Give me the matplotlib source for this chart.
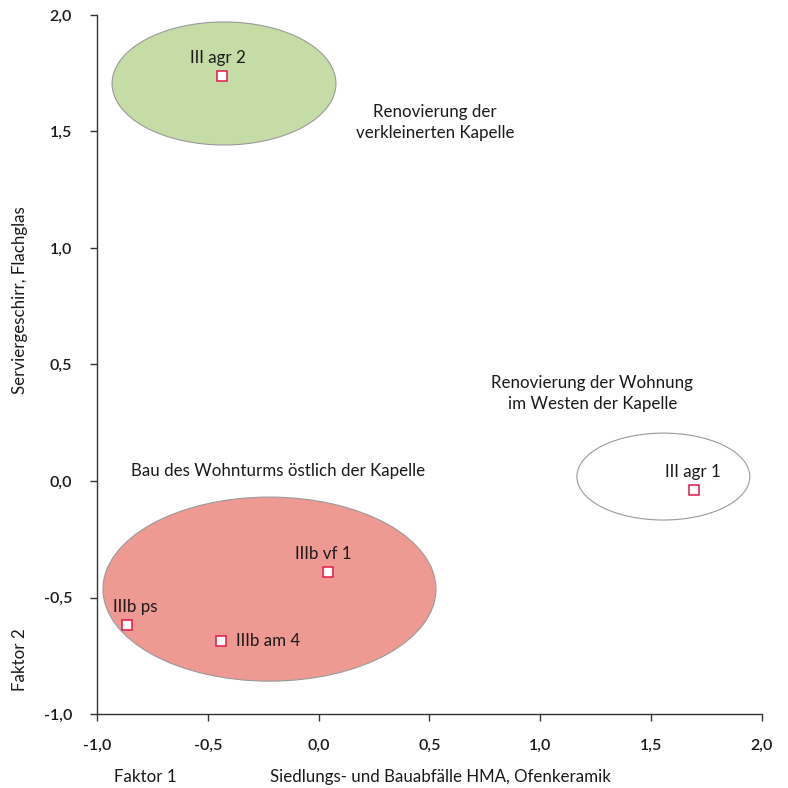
import matplotlib
matplotlib.use("Agg")
import matplotlib.pyplot as plt
from matplotlib.patches import Ellipse

plt.rcParams['font.family'] = ['Lato', 'DejaVu Sans']

# Sample scores on the two factors
labels = ["III agr 2", "III agr 1", "IIIb vf 1", "IIIb ps", "IIIb am 4"]
faktor1 = [-0.436, 1.693, 0.042, -0.865, -0.441]
faktor2 = [1.738, -0.039, -0.391, -0.618, -0.687]

# Group ellipses: centre x, centre y, width, height, fill
group_cx = [-0.427, 1.555, -0.222]
group_cy = [1.706, 0.019, -0.464]
group_w = [1.01, 0.78, 1.502]
group_h = [0.528, 0.373, 0.79]
group_fill = ["#c6dca6", "#ffffff", "#ee9a93"]

group_text = ["Renovierung der\nverkleinerten Kapelle",
              "Renovierung der Wohnung\nim Westen der Kapelle",
              "Bau des Wohnturms östlich der Kapelle"]
group_text_x = [0.525, 1.235, -0.185]
group_text_y = [1.54, 0.375, 0.045]

ticks = [-1.0, -0.5, 0.0, 0.5, 1.0, 1.5, 2.0]
tick_labels = ["-1,0", "-0,5", "0,0", "0,5", "1,0", "1,5", "2,0"]

fig = plt.figure(figsize=(7.88, 7.88), dpi=100)
ax = fig.add_axes([0.1231, 0.0939, 0.8439, 0.8871])

for cx, cy, w, h, fc in zip(group_cx, group_cy, group_w, group_h, group_fill):
    ax.add_patch(Ellipse((cx, cy), w, h, facecolor=fc, edgecolor="#9a9a9a",
                         linewidth=0.8, zorder=1))

ax.plot(faktor1, faktor2, linestyle="none", marker="s", markersize=7,
        markerfacecolor="white", markeredgecolor="#e2184a",
        markeredgewidth=1.1, zorder=3)

txt = dict(fontsize=12.2, color="#1a1a1a", zorder=4)
# point labels
ax.text(faktor1[0] - 0.02, faktor2[0] + 0.045, labels[0], ha="center", va="bottom", **txt)
ax.text(faktor1[1] - 0.005, faktor2[1] + 0.045, labels[1], ha="center", va="bottom", **txt)
ax.text(faktor1[2] - 0.02, faktor2[2] + 0.045, labels[2], ha="center", va="bottom", **txt)
ax.text(faktor1[3] - 0.065, faktor2[3] + 0.045, labels[3], ha="left", va="bottom", **txt)
ax.text(faktor1[4] + 0.07, faktor2[4], labels[4], ha="left", va="center", **txt)

for s, x, y in zip(group_text, group_text_x, group_text_y):
    ax.text(x, y, s, ha="center", va="center", linespacing=1.4, **txt)

ax.set_xlim(-1.0, 2.0)
ax.set_ylim(-1.0, 2.0)
ax.set_xticks(ticks)
ax.set_xticklabels(tick_labels)
ax.set_yticks(ticks)
ax.set_yticklabels(tick_labels)
ax.tick_params(direction="out", length=5, width=1, color="#333333",
               labelsize=11.5, labelcolor="#1a1a1a", pad=13)
for lab in ax.get_xticklabels() + ax.get_yticklabels():
    lab.set_fontweight("semibold")

for side in ("top", "right"):
    ax.spines[side].set_visible(False)
for side in ("left", "bottom"):
    ax.spines[side].set_color("#333333")
    ax.spines[side].set_linewidth(1)

lab = dict(fontsize=12.2, color="#1a1a1a")
fig.text(145 / 788, 1 - 777 / 788, "Faktor 1", ha="center", va="center", **lab)
fig.text(440 / 788, 1 - 777 / 788, "Siedlungs- und Bauabfälle HMA, Ofenkeramik",
         ha="center", va="center", **lab)
fig.text(20 / 788, 1 - 300 / 788, "Serviergeschirr, Flachglas", rotation=90,
         ha="center", va="center", **lab)
fig.text(20 / 788, 1 - 660 / 788, "Faktor 2", rotation=90,
         ha="center", va="center", **lab)

fig.savefig("out.png", dpi=100, facecolor="white")
